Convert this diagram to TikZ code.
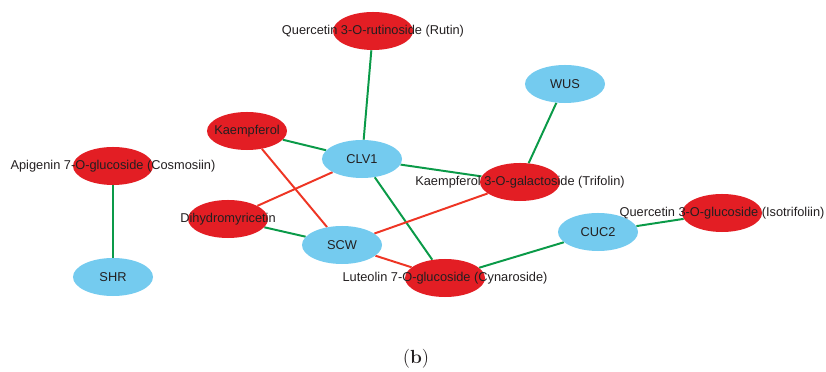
\documentclass[tikz,border=0pt]{standalone}
\usepackage{fontspec}
\setsansfont{Liberation Sans}
\usetikzlibrary{shapes.geometric, backgrounds}

\definecolor{flavred}{HTML}{E31E24}
\definecolor{geneblue}{HTML}{74CBEF}
\definecolor{posgreen}{HTML}{0A9A48}
\definecolor{negred}{HTML}{EE3524}
\definecolor{txtgray}{HTML}{231F20}

\tikzset{
    base/.style    = {ellipse, inner sep=0pt, minimum width=2cm, minimum height=0.95cm,
                      label={[text=txtgray, font=\sffamily\fontsize{9.1}{10}\selectfont]center:#1}},
    chem/.style    = {base=#1, fill=flavred},
    gene/.style    = {base=#1, fill=geneblue},
    posedge/.style = {posgreen, line width=1.4pt},
    negedge/.style = {negred, line width=1.4pt},
}

\begin{document}
\begin{tikzpicture} [x=0.025cm, y=-0.025cm]
    \useasboundingbox (0, 0) rectangle (826, 372);

    % Gene
    \node [gene=CLV1] (clv) at (362, 159) {};
    \node [gene=WUS]  (wus) at (565, 84)  {};
    \node [gene=SCW]  (scw) at (342, 245) {};
    \node [gene=CUC2] (cuc) at (598, 232) {};
    \node [gene=SHR]  (shr) at (113, 277) {};

    % Flavonoide
    \node [chem={Quercetin 3-O-rutinoside (Rutin)}]        (rutin)  at (373, 31)  {};
    \node [chem=Kaempferol]                                (kaemp)  at (247, 131) {};
    \node [chem={Kaempferol 3-O-galactoside (Trifolin)}]   (trif)   at (520, 182) {};
    \node [chem={Apigenin 7-O-glucoside (Cosmosiin)}]      (cosmo)  at (113, 166) {};
    \node [chem=Dihydromyricetin]                          (dihyd)  at (228, 219) {};
    \node [chem={Luteolin 7-O-glucoside (Cynaroside)}]     (cynar)  at (445, 278) {};
    \node [chem={Quercetin 3-O-glucoside (Isotrifoliin)}]  (isotri) at (722, 213) {};

    % Kanten
    \begin{scope}[on background layer]
        \draw [posedge] (rutin) -- (clv);
        \draw [posedge] (wus) -- (trif);
        \draw [posedge] (kaemp) -- (clv);
        \draw [posedge] (clv) -- (trif);
        \draw [posedge] (clv) -- (cynar);
        \draw [posedge] (dihyd) -- (scw);
        \draw [posedge] (cynar) -- (cuc);
        \draw [posedge] (cuc) -- (isotri);
        \draw [posedge] (cosmo) -- (shr);
        \draw [negedge] (kaemp) -- (scw);
        \draw [negedge] (clv) -- (dihyd);
        \draw [negedge] (trif) -- (scw);
        \draw [negedge] (scw) -- (cynar);
    \end{scope}

    \node [text=txtgray, font=\fontsize{13.5}{15}\selectfont] (cap) at (416, 359) {(\textbf{b})};
\end{tikzpicture}
\end{document}
